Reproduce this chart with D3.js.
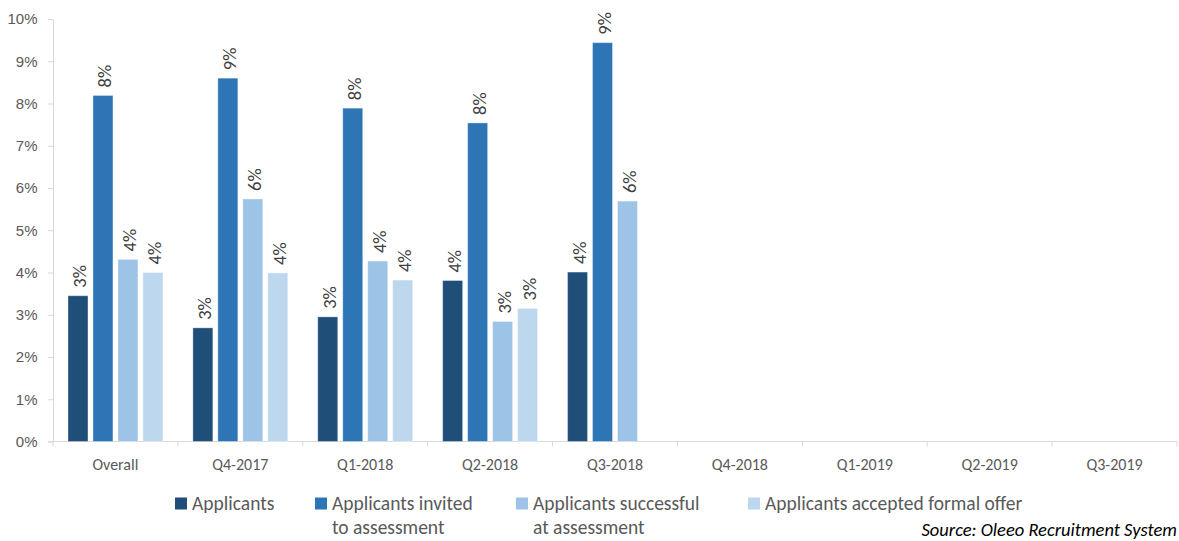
<!DOCTYPE html>
<html>
<head>
<meta charset="utf-8">
<script src="https://cdn.jsdelivr.net/npm/d3@7"></script>
<style>
  body { margin: 0; background: #fff; }
  svg { display: block; font-family: Carlito, Lato, "Open Sans", sans-serif; }
</style>
</head>
<body>
<div id="chart"></div>
<script>
// quarters on the x axis
var categories = ["Overall", "Q4-2017", "Q1-2018", "Q2-2018", "Q3-2018", "Q4-2018", "Q1-2019", "Q2-2019", "Q3-2019"];

// series (percent), null = no data yet
var applicants  = [3.45, 2.69, 2.95, 3.81, 4.01, null, null, null, null];
var invited     = [8.19, 8.60, 7.89, 7.54, 9.44, null, null, null, null];
var successful  = [4.31, 5.74, 4.27, 2.84, 5.69, null, null, null, null];
var accepted    = [4.00, 3.99, 3.82, 3.15, null, null, null, null, null];

var seriesNames = ["Applicants", "Applicants invited\nto assessment", "Applicants successful\nat assessment", "Applicants accepted formal offer"];
var seriesColors = ["#1f4e79", "#2e75b6", "#9dc3e6", "#bdd7ee"];
var yTicks = [0, 1, 2, 3, 4, 5, 6, 7, 8, 9, 10];

var seriesValues = [applicants, invited, successful, accepted];

var width = 1179, height = 541;
var margin = { top: 19, right: 2, bottom: 99.5, left: 53 };
var innerW = width - margin.left - margin.right;
var innerH = height - margin.top - margin.bottom;

var svg = d3.select("#chart").append("svg")
    .attr("width", width)
    .attr("height", height);

var g = svg.append("g")
    .attr("transform", "translate(" + margin.left + "," + margin.top + ")");

var x0 = d3.scaleBand()
    .domain(categories)
    .range([0, innerW])
    .paddingInner(0.24)
    .paddingOuter(0.12);

var x1 = d3.scaleBand()
    .domain(d3.range(seriesValues.length))
    .range([0, x0.bandwidth()])
    .paddingInner(0.2);

var y = d3.scaleLinear()
    .domain([0, 10])
    .range([innerH, 0]);

// y axis
var yAxis = g.append("g")
    .call(d3.axisLeft(y).tickValues(yTicks).tickSize(5).tickFormat(function(d) { return d + "%"; }));
yAxis.select(".domain").attr("stroke", "#d9d9d9");
yAxis.selectAll(".tick line").attr("stroke", "#d9d9d9");
yAxis.selectAll(".tick text")
    .attr("fill", "#595959")
    .style("font-size", "15px")
    .attr("x", -15.5);

// x axis with ticks on the category boundaries
var xAxisG = g.append("g").attr("transform", "translate(0," + innerH + ")");
xAxisG.append("line")
    .attr("x1", 0).attr("x2", innerW)
    .attr("stroke", "#d9d9d9");
var step = x0.step();
xAxisG.selectAll(".bound")
    .data(d3.range(categories.length + 1))
    .enter().append("line")
    .attr("x1", function(i) { return i * step; })
    .attr("x2", function(i) { return i * step; })
    .attr("y1", 0).attr("y2", 5)
    .attr("stroke", "#d9d9d9");
xAxisG.selectAll(".cat")
    .data(categories)
    .enter().append("text")
    .attr("x", function(d) { return x0(d) + x0.bandwidth() / 2; })
    .attr("y", 28)
    .attr("text-anchor", "middle")
    .attr("fill", "#595959")
    .style("font-size", "16px")
    .text(function(d) { return d; });

// bars
var rows = [];
categories.forEach(function(c, ci) {
    seriesValues.forEach(function(vals, si) {
        if (vals[ci] != null) rows.push({ cat: c, s: si, v: vals[ci] });
    });
});

g.selectAll(".bar")
    .data(rows)
    .enter().append("rect")
    .attr("class", "bar")
    .attr("x", function(d) { return x0(d.cat) + x1(d.s); })
    .attr("y", function(d) { return y(d.v); })
    .attr("width", x1.bandwidth())
    .attr("height", function(d) { return innerH - y(d.v); })
    .attr("fill", function(d) { return seriesColors[d.s]; })
    .attr("stroke", "rgba(255,255,255,0.35)")
    .attr("stroke-width", 1);

// rotated value labels
g.selectAll(".lbl")
    .data(rows)
    .enter().append("text")
    .attr("transform", function(d) {
        var cx = x0(d.cat) + x1(d.s) + x1.bandwidth() / 2 + 8.5;
        return "translate(" + cx + "," + (y(d.v) - 8) + ") rotate(-90)";
    })
    .attr("fill", "#404040")
    .style("font-size", "18.5px")
    .text(function(d) { return Math.round(d.v) + "%"; });

// legend
var legendX = [175, 315, 516, 748];
var legend = svg.selectAll(".legend")
    .data(seriesNames)
    .enter().append("g")
    .attr("transform", function(d, i) { return "translate(" + legendX[i] + ",497.5)"; });

legend.append("rect")
    .attr("width", 12).attr("height", 12)
    .attr("fill", function(d, i) { return seriesColors[i]; });

legend.append("text")
    .attr("y", 12)
    .attr("fill", "#595959")
    .style("font-size", "19.5px")
    .each(function(d) {
        var t = d3.select(this);
        d.split("\n").forEach(function(line, li) {
            t.append("tspan").attr("x", 17).attr("dy", li === 0 ? 0 : 24).text(line);
        });
    });

// source note
svg.append("text")
    .attr("x", 1177)
    .attr("y", 536)
    .attr("text-anchor", "end")
    .attr("fill", "#000")
    .style("font-size", "18.5px")
    .style("font-style", "italic")
    .text("Source: Oleeo Recruitment System");
</script>
</body>
</html>
